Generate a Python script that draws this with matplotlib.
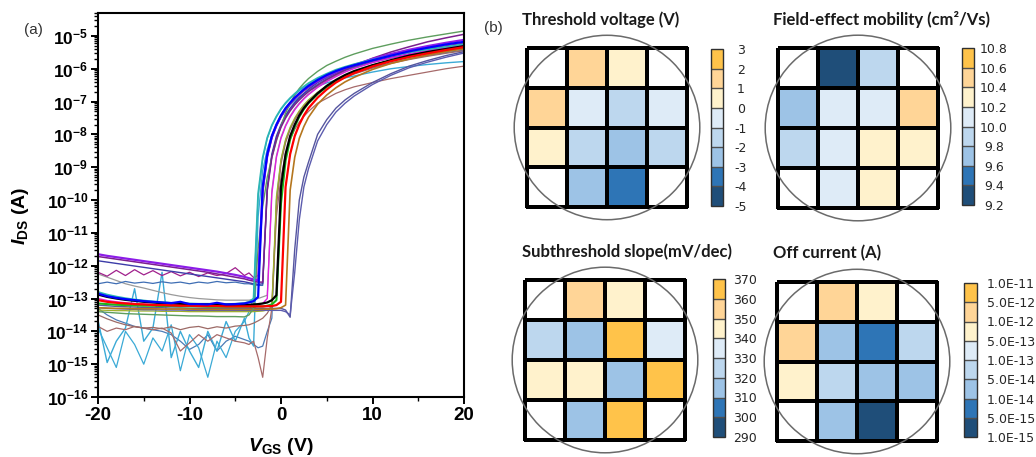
import numpy as np
import matplotlib
matplotlib.use('Agg')
import matplotlib.pyplot as plt
from matplotlib.colors import ListedColormap, BoundaryNorm
from matplotlib.patches import Circle
from matplotlib.ticker import LogLocator, NullFormatter, FixedLocator

plt.rcParams['font.family'] = ['Liberation Sans', 'DejaVu Sans']
plt.rcParams['axes.unicode_minus'] = False
plt.rcParams['mathtext.fontset'] = 'custom'
plt.rcParams['mathtext.rm'] = 'Liberation Sans'
plt.rcParams['mathtext.bf'] = 'Liberation Sans:bold'
plt.rcParams['mathtext.it'] = 'Liberation Sans:bold:italic'

# ---------------- data: transfer curves (log10 of I_DS in A) ----------------
vgs = [-20, -19, -18, -17, -16, -15, -14, -13, -12, -11, -10, -9, -8, -7, -6, -5, -4,
       -3.5, -3, -2.5, -2, -1.5, -1, -0.5, 0, 0.5, 1, 1.5, 2, 2.5, 3,
       4, 5, 6, 7, 8, 10, 12, 14, 16, 18, 20]

log_black = [-12.88, -12.95, -13.00, -13.04, -13.07, -13.10, -13.12, -13.14, -13.15, -13.16, -13.17, -13.18, -13.18, -13.19, -13.19, -13.19, -13.19,
             -13.19, -13.18, -13.17, -13.15, -13.12, -13.05, -12.90, -9.60, -8.60, -8.05, -7.70, -7.42, -7.20, -7.03,
             -6.75, -6.52, -6.34, -6.19, -6.07, -5.89, -5.74, -5.60, -5.49, -5.40, -5.31]
log_red = [-13.05, -13.10, -13.13, -13.15, -13.17, -13.18, -13.20, -13.20, -13.21, -13.22, -13.22, -13.23, -13.23, -13.23, -13.24, -13.24, -13.24,
           -13.24, -13.24, -13.24, -13.24, -13.23, -13.23, -13.20, -13.10, -9.60, -8.60, -8.05, -7.70, -7.42, -7.20,
           -6.88, -6.63, -6.42, -6.26, -6.13, -5.93, -5.77, -5.64, -5.53, -5.43, -5.34]
log_blue = [-12.85, -12.93, -12.98, -13.02, -13.05, -13.08, -13.10, -13.12, -13.14, -13.10, -13.17, -13.17, -13.18, -13.13, -13.18, -13.17, -13.15,
            -13.12, -13.08, -12.95, -9.60, -8.60, -8.05, -7.70, -7.42, -7.20, -7.03, -6.88, -6.75, -6.63, -6.52,
            -6.34, -6.19, -6.07, -5.97, -5.89, -5.74, -5.60, -5.47, -5.36, -5.26, -5.18]
log_green = [-13.15, -13.17, -13.19, -13.20, -13.21, -13.22, -13.22, -13.23, -13.23, -13.24, -13.24, -13.24, -13.25, -13.25, -13.25, -13.25, -13.25,
             -13.25, -13.25, -13.24, -13.24, -13.22, -13.18, -13.05, -10.10, -8.80, -8.15, -7.76, -7.46, -7.23, -7.05,
             -6.77, -6.55, -6.37, -6.22, -6.10, -5.90, -5.75, -5.62, -5.51, -5.42, -5.33]
log_teal = [-12.80, -12.88, -12.94, -12.99, -13.03, -13.06, -13.09, -13.11, -13.13, -13.14, -13.15, -13.16, -13.16, -13.17, -13.17, -13.16, -13.14,
            -13.10, -13.00, -9.80, -8.70, -8.10, -7.72, -7.45, -7.22, -7.04, -6.89, -6.76, -6.64, -6.54, -6.44,
            -6.28, -6.15, -6.03, -5.94, -5.86, -5.72, -5.60, -5.50, -5.41, -5.33, -5.25]
log_sage = [-13.40, -13.42, -13.44, -13.46, -13.47, -13.48, -13.49, -13.50, -13.51, -13.52, -13.53, -13.53, -13.54, -13.55, -13.55, -13.55, -13.56,
            -13.50, -13.30, -11.50, -10.20, -9.30, -8.70, -8.20, -7.75, -7.35, -7.05, -6.80, -6.60, -6.44, -6.30,
            -6.08, -5.90, -5.77, -5.65, -5.55, -5.38, -5.25, -5.13, -5.03, -4.94, -4.85]
log_violet = [-11.65, -11.70, -11.74, -11.78, -11.82, -11.86, -11.90, -11.94, -11.98, -12.02, -12.06, -12.10, -12.14, -12.18, -12.23, -12.28, -12.34,
              -12.38, -12.42, -12.45, -9.70, -8.65, -8.08, -7.72, -7.44, -7.22, -7.05, -6.90, -6.77, -6.65, -6.55,
              -6.38, -6.23, -6.10, -5.98, -5.88, -5.70, -5.55, -5.42, -5.31, -5.21, -5.12]
log_purple = [-11.72, -11.76, -11.80, -11.84, -11.88, -11.92, -11.96, -12.00, -12.04, -12.08, -12.12, -12.16, -12.20, -12.25, -12.30, -12.35, -12.40,
              -12.44, -12.47, -12.50, -12.50, -9.70, -8.70, -8.15, -7.78, -7.50, -7.28, -7.10, -6.95, -6.82, -6.70,
              -6.50, -6.33, -6.18, -6.04, -5.91, -5.68, -5.49, -5.33, -5.18, -5.06, -4.95]
log_darkblue = [-11.85, -11.89, -11.93, -11.97, -12.01, -12.05, -12.09, -12.13, -12.17, -12.21, -12.25, -12.29, -12.33, -12.37, -12.41, -12.45, -12.49,
                -12.52, -12.55, -12.57, -12.55, -9.60, -8.60, -8.05, -7.70, -7.42, -7.20, -7.03, -6.88, -6.75, -6.63,
                -6.42, -6.26, -6.13, -6.02, -5.93, -5.77, -5.65, -5.55, -5.46, -5.38, -5.30]
log_magenta = [-12.20, -12.32, -12.14, -12.30, -12.12, -12.28, -12.15, -12.30, -12.18, -12.31, -12.20, -12.33, -12.22, -12.30, -12.24, -12.06, -12.30,
               -12.22, -12.36, -12.30, -9.80, -8.70, -8.12, -7.76, -7.48, -7.26, -7.08, -6.93, -6.80, -6.68, -6.58,
               -6.40, -6.25, -6.12, -6.01, -5.91, -5.75, -5.61, -5.49, -5.39, -5.30, -5.22]
log_steel = [-12.55, -12.50, -12.55, -12.48, -12.53, -12.50, -12.54, -12.49, -12.53, -12.50, -12.55, -12.50, -12.53, -12.48, -12.52, -12.50, -12.55,
             -12.55, -12.58, -12.60, -12.60, -9.70, -8.65, -8.10, -7.74, -7.46, -7.24, -7.06, -6.91, -6.78, -6.67,
             -6.47, -6.30, -6.17, -6.05, -5.96, -5.80, -5.67, -5.56, -5.47, -5.39, -5.32]
log_grey = [-12.25, -12.35, -12.45, -12.55, -12.62, -12.68, -12.75, -12.82, -12.88, -12.93, -12.97, -13.00, -13.02, -13.04, -13.05, -13.05, -13.05,
            -13.05, -13.03, -13.00, -12.95, -12.90, -9.70, -8.65, -8.08, -7.72, -7.44, -7.22, -7.05, -6.90, -6.77,
            -6.55, -6.37, -6.22, -6.09, -5.98, -5.81, -5.67, -5.56, -5.46, -5.38, -5.31]
log_pink = [-13.00, -13.06, -13.10, -13.13, -13.15, -13.17, -13.18, -13.19, -13.20, -13.20, -13.21, -13.21, -13.21, -13.22, -13.22, -13.22, -13.22,
            -13.22, -13.21, -13.20, -13.15, -13.00, -9.80, -8.70, -8.12, -7.75, -7.47, -7.25, -7.07, -6.92, -6.79,
            -6.57, -6.39, -6.24, -6.10, -5.99, -5.81, -5.67, -5.55, -5.45, -5.36, -5.28]
log_olive = [-13.35, -13.36, -13.37, -13.37, -13.38, -13.38, -13.38, -13.39, -13.39, -13.39, -13.40, -13.40, -13.40, -13.40, -13.40, -13.40, -13.40,
             -13.40, -13.40, -13.39, -13.38, -13.35, -13.25, -9.90, -8.75, -8.15, -7.78, -7.50, -7.28, -7.10, -6.95,
             -6.72, -6.52, -6.36, -6.22, -6.10, -5.92, -5.77, -5.65, -5.55, -5.46, -5.38]
log_gold = [-13.28, -13.29, -13.30, -13.30, -13.31, -13.31, -13.31, -13.32, -13.32, -13.32, -13.32, -13.33, -13.33, -13.33, -13.33, -13.33, -13.33,
            -13.33, -13.33, -13.33, -13.33, -13.32, -13.32, -13.31, -13.28, -13.20, -9.70, -8.70, -8.12, -7.76, -7.48,
            -7.08, -6.80, -6.58, -6.40, -6.26, -6.02, -5.84, -5.70, -5.58, -5.48, -5.39]
log_slate1 = [-13.20, -13.22, -13.24, -13.25, -13.26, -13.27, -13.28, -13.28, -13.29, -13.29, -13.30, -13.30, -13.30, -13.30, -13.30, -13.30, -13.30,
              -13.30, -13.30, -13.30, -13.30, -13.30, -13.30, -13.30, -13.30, -13.35, -13.57, -11.50, -10.00, -9.30, -8.85,
              -8.00, -7.55, -7.20, -6.95, -6.75, -6.42, -6.15, -5.92, -5.75, -5.60, -5.48]
log_slate2 = [-13.28, -13.30, -13.31, -13.32, -13.33, -13.34, -13.34, -13.35, -13.35, -13.35, -13.36, -13.36, -13.36, -13.36, -13.36, -13.36, -13.36,
              -13.36, -13.36, -13.36, -13.36, -13.36, -13.36, -13.36, -13.36, -13.40, -13.50, -12.20, -10.60, -9.60, -9.05,
              -8.20, -7.70, -7.32, -7.05, -6.83, -6.48, -6.20, -5.97, -5.80, -5.65, -5.52]
log_rose = [-13.85, -14.00, -13.90, -13.95, -13.85, -13.90, -13.95, -13.90, -14.05, -14.60, -14.35, -14.10, -14.30, -14.10, -14.20, -14.30, -14.35,
            -14.40, -14.30, -14.80, -15.40, -14.20, -13.30, -10.50, -9.30, -8.60, -8.15, -7.85, -7.62, -7.45, -7.30,
            -7.05, -6.90, -6.75, -6.64, -6.55, -6.42, -6.30, -6.20, -6.10, -6.00, -5.92]
log_brown = [-13.50, -13.62, -13.72, -13.80, -13.86, -13.90, -13.88, -13.92, -13.86, -13.95, -13.88, -13.85, -13.92, -13.86, -13.90, -13.84, -13.82,
             -13.80, -13.75, -13.68, -13.60, -13.45, -13.20, -10.20, -8.90, -8.25, -7.85, -7.56, -7.33, -7.14, -6.98,
             -6.75, -6.56, -6.40, -6.27, -6.16, -5.98, -5.84, -5.72, -5.62, -5.53, -5.45]
log_cyan1 = [-13.66, -14.95, -14.30, -13.90, -12.70, -14.30, -13.90, -12.20, -14.80, -14.00, -14.60, -15.10, -14.00, -14.60, -13.70, -14.30, -13.60,
             -14.20, -14.45, -10.50, -9.10, -8.45, -8.02, -7.72, -7.47, -7.27, -7.10, -6.97, -6.86, -6.76, -6.67,
             -6.53, -6.43, -6.35, -6.28, -6.22, -6.10, -6.00, -5.93, -5.87, -5.82, -5.78]
log_cyan2 = [-13.90, -14.50, -15.10, -14.00, -14.40, -15.00, -14.20, -14.60, -13.80, -15.20, -14.10, -14.50, -15.40, -14.30, -14.80, -14.00, -13.70,
             -13.40, -13.00, -9.90, -8.75, -8.12, -7.74, -7.46, -7.24, -7.06, -6.91, -6.78, -6.67, -6.57, -6.48,
             -6.33, -6.20, -6.09, -6.00, -5.92, -5.79, -5.68, -5.59, -5.51, -5.44, -5.38]
log_steel2 = [-13.30, -13.50, -13.65, -13.75, -13.85, -13.90, -13.95, -14.00, -14.10, -14.30, -14.55, -14.40, -14.10, -14.60, -14.30, -14.15, -14.25,
              -14.30, -14.40, -14.50, -14.45, -14.00, -13.60, -10.00, -8.80, -8.20, -7.82, -7.54, -7.31, -7.12, -6.96,
              -6.72, -6.53, -6.38, -6.25, -6.14, -5.96, -5.82, -5.70, -5.60, -5.51, -5.43]

curves = [
    ('#4B7BB6', 0.9, log_steel2), ('#3BAAD6', 0.9, log_cyan2), ('#3BAAD6', 1.0, log_cyan1),
    ('#A66A6A', 0.9, log_rose), ('#9C6A66', 0.9, log_brown), ('#9EAF2A', 0.9, log_olive),
    ('#9A9A9A', 0.9, log_grey), ('#3F6EB4', 0.9, log_steel), ('#A0208C', 0.9, log_magenta),
    ('#3C3CA8', 1.0, log_darkblue), ('#55559F', 1.0, log_slate1), ('#5C5CAE', 1.0, log_slate2),
    ('#B5761E', 1.2, log_gold), ('#E020E0', 1.0, log_pink), ('#5E9E5E', 1.0, log_sage),
    ('#7B1F8E', 1.1, log_purple), ('#8C1CE8', 1.6, log_violet), ('#2CB5B5', 1.3, log_teal),
    ('#1DB51D', 1.5, log_green), ('#000000', 1.6, log_black), ('#FF0000', 1.6, log_red),
    ('#0000FF', 1.6, log_blue),
]

# ---------------- data: wafer maps (row 0 = top, NaN = no device) ----------------
vth_map = [[np.nan, 1.4, 0.5, np.nan],
           [1.6, -0.6, -1.5, -0.4],
           [0.3, -1.6, -2.4, -1.3],
           [np.nan, -2.6, -3.5, np.nan]]
vth_bounds = [-5, -4, -3, -2, -1, 0, 1, 2, 3]
vth_labels = ['-5', '-4', '-3', '-2', '-1', '0', '1', '2', '3']

mob_map = [[np.nan, 9.28, 9.9, np.nan],
           [9.7, 10.1, 10.05, 10.5],
           [9.85, 10.1, 10.3, 10.25],
           [np.nan, 10.15, 10.3, np.nan]]
mob_bounds = [9.2, 9.4, 9.6, 9.8, 10.0, 10.2, 10.4, 10.6, 10.8]
mob_labels = ['9.2', '9.4', '9.6', '9.8', '10.0', '10.2', '10.4', '10.6', '10.8']

ss_map = [[np.nan, 355, 345, np.nan],
          [325, 315, 365, 335],
          [343, 346, 318, 366],
          [np.nan, 314, 364, np.nan]]
ss_bounds = [290, 300, 310, 320, 330, 340, 350, 360, 370]
ss_labels = ['290', '300', '310', '320', '330', '340', '350', '360', '370']

off_map = [[np.nan, 2e-12, 7e-13, np.nan],
           [2.5e-12, 2e-14, 8e-15, 7e-14],
           [7e-13, 6e-14, 3e-14, 2.5e-14],
           [np.nan, 2e-14, 3e-15, np.nan]]
off_bounds = [1e-15, 5e-15, 1e-14, 5e-14, 1e-13, 5e-13, 1e-12, 5e-12, 1e-11]
off_labels = ['1.0E-15', '5.0E-15', '1.0E-14', '5.0E-14', '1.0E-13',
              '5.0E-13', '1.0E-12', '5.0E-12', '1.0E-11']

map_colors = ['#1F4E79', '#2E75B6', '#9DC3E6', '#BDD7EE', '#DEEBF7',
              '#FFF2CC', '#FFD597', '#FFC34A']

# ---------------- figure ----------------
W, H = 1036, 457
fig = plt.figure(figsize=(W / 100, H / 100), dpi=100)


def px_axes(x0, y0, x1, y1):
    return fig.add_axes([x0 / W, 1 - y1 / H, (x1 - x0) / W, (y1 - y0) / H])


# ---- panel (a) ----
ax = px_axes(98, 13, 464, 397)
for color, lw, data in curves:
    ax.plot(vgs, 10.0 ** np.array(data), color=color, lw=lw, solid_joinstyle='round')
ax.set_yscale('log')
ax.set_xlim(-20, 20)
ax.set_ylim(1e-16, 5e-5)
exps = list(range(-16, -4))
ax.yaxis.set_major_locator(FixedLocator([10.0 ** e for e in exps]))
ax.set_yticklabels([r'$\mathbf{10^{%d}}$' % e for e in exps])
ax.yaxis.set_minor_locator(LogLocator(base=10, subs=np.arange(2, 10), numticks=40))
ax.yaxis.set_minor_formatter(NullFormatter())
ax.set_xticks([-20, -10, 0, 10, 20])
ax.set_xticks([-15, -5, 5, 15], minor=True)
ax.tick_params(axis='both', which='major', direction='out', length=5, width=1.4, pad=2)
ax.tick_params(axis='x', which='major', labelsize=13.5)
ax.tick_params(axis='y', which='major', labelsize=12.5)
ax.tick_params(axis='both', which='minor', direction='out', length=3, width=1.0)
for lab in ax.get_xticklabels():
    lab.set_fontweight('bold')
for sp in ax.spines.values():
    sp.set_linewidth(1.5)

fig.text(25 / W, 1 - 216 / H, r'$\mathit{I}_{\mathbf{DS}}$ (A)', rotation=90, rotation_mode='anchor',
         ha='center', va='baseline', fontsize=14, fontweight='bold')
fig.text(281 / W, 1 - 451 / H, r'$\mathit{V}_{\mathbf{GS}}$ (V)', ha='center', va='baseline',
         fontsize=14, fontweight='bold')
fig.text(24 / W, 1 - 30 / H, '(a)', ha='left', va='center', fontsize=11, color='#333333')
fig.text(484 / W, 1 - 28 / H, '(b)', ha='left', va='center', fontsize=11, color='#333333')


# ---- panel (b): wafer maps ----
def wafer(grid, cbar, data, bounds, labels, title, tpos, label_center):
    cmap = ListedColormap(map_colors)
    cmap.set_bad('white')
    norm = BoundaryNorm(bounds, cmap.N)
    hx = px_axes(*grid)
    arr = np.ma.masked_invalid(np.array(data, dtype=float))
    mesh = hx.pcolormesh(np.arange(5), np.arange(5), arr, cmap=cmap, norm=norm,
                         edgecolors='black', linewidth=1.6)
    mesh.set_clip_on(False)
    hx.set_xlim(0, 4)
    hx.set_ylim(4, 0)
    hx.add_patch(Circle((2, 2), 2.32, fill=False, ec='#6a6a6a', lw=1.1, clip_on=False, zorder=5))
    hx.axis('off')
    cx = px_axes(*cbar)
    cb = fig.colorbar(mesh, cax=cx, drawedges=True)
    cb.set_ticks(bounds, labels=labels)
    pad_pt = (label_center - cbar[2]) * 0.72
    cb.ax.tick_params(length=0, pad=pad_pt, labelsize=9, labelcolor='#262626')
    for lab in cb.ax.get_yticklabels():
        lab.set_family(['DejaVu Sans'])
        lab.set_horizontalalignment('center')
    cb.dividers.set_color('#505050')
    cb.dividers.set_linewidth(1.0)
    cb.outline.set_edgecolor('#303030')
    cb.outline.set_linewidth(1.0)
    fig.text(tpos[0] / W, 1 - tpos[1] / H, title, ha='left', va='center', fontsize=12,
             fontweight='bold', family=['Lato', 'DejaVu Sans'], color='#1a1a1a')


wafer((527, 48, 687, 207), (711, 49, 723, 206), vth_map, vth_bounds, vth_labels,
      'Threshold voltage (V)', (522, 20), 741)
wafer((778, 48, 938, 208), (962, 48, 974, 205), mob_map, mob_bounds, mob_labels,
      'Field-effect mobility (cm\u00b2/Vs)', (773, 20), 994)
wafer((525, 280, 685, 440), (713, 279, 725, 437), ss_map, ss_bounds, ss_labels,
      'Subthreshold slope(mV/dec)', (522, 252), 745)
wafer((777, 282, 937, 441), (964, 283, 977, 437), off_map, off_bounds, off_labels,
      'Off current (A)', (773, 253), 1011)

fig.savefig('out.png', dpi=100)
